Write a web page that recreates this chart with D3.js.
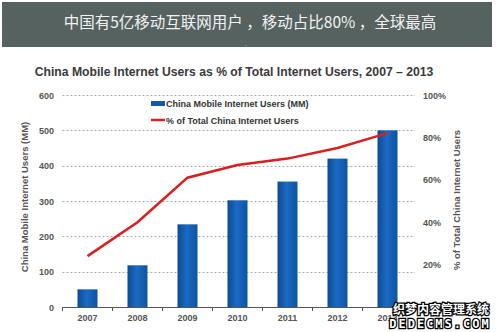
<!DOCTYPE html>
<html><head><meta charset="utf-8">
<script src="https://cdn.jsdelivr.net/npm/d3@7"></script>
<style>body{margin:0;background:#fff;}svg{display:block;}</style>
</head><body>
<svg id="c" width="500" height="332"></svg>
<script>
const years = ["2007","2008","2009","2010","2011","2012","2013"];
const users = [50, 118, 234, 302, 355, 420, 500];
const share = [24, 40, 61, 67, 70, 75, 82];
const leftTicks = [0,100,200,300,400,500,600];
const rightTicks = [20,40,60,80,100];

const svg = d3.select("#c");
const font = "Liberation Sans, Arial, sans-serif";

// banner
svg.append("rect").attr("x",2).attr("y",2).attr("width",490).attr("height",45).attr("fill","#56625f");
svg.append("text").attr("x",250).attr("y",28).attr("text-anchor","middle")
  .attr("font-family","Noto Sans CJK SC").attr("font-size",15.5).attr("fill","#f2f2f2")
  .text("中国有5亿移动互联网用户 ，移动占比80% ，全球最高");
svg.append("text").attr("x",246).attr("y",46).attr("text-anchor","middle").attr("font-size",6).attr("fill","#ddd").text(".");

// chart title
svg.append("text").attr("x",234).attr("y",76).attr("text-anchor","middle")
  .attr("font-family",font).attr("font-weight","bold").attr("font-size",12.2).attr("fill","#3a3a3a")
  .text("China Mobile Internet Users as % of Total Internet Users, 2007 – 2013");

const x0 = 62.5, x1 = 412.5, yTop = 95, yBot = 307;
const x = d3.scaleBand().domain(years).range([x0,x1]);
const yL = d3.scaleLinear().domain([0,600]).range([yBot,yTop]);
const yR = d3.scaleLinear().domain([0,100]).range([yBot,yTop]);

// gradient
const defs = svg.append("defs");
const g = defs.append("linearGradient").attr("id","bg").attr("x1","0").attr("x2","1").attr("y1","0").attr("y2","0");
g.append("stop").attr("offset","0%").attr("stop-color","#0d4a92");
g.append("stop").attr("offset","45%").attr("stop-color","#1a6ac4");
g.append("stop").attr("offset","100%").attr("stop-color","#0f559f");

// gridlines
svg.append("g").selectAll("line").data(leftTicks.filter(d=>d>0)).join("line")
  .attr("x1",x0).attr("x2",415).attr("y1",d=>Math.round(yL(d))+0.5).attr("y2",d=>Math.round(yL(d))+0.5)
  .attr("stroke","#aaa").attr("stroke-width",1).attr("stroke-dasharray","2,2");

// left axis labels
svg.append("g").selectAll("text").data(leftTicks).join("text")
  .attr("x",54).attr("y",d=>yL(d)+3.5).attr("text-anchor","end")
  .attr("font-family",font).attr("font-weight","bold").attr("font-size",9).attr("fill","#555")
  .text(d=>d);
// right axis labels
svg.append("g").selectAll("text").data(rightTicks).join("text")
  .attr("x",423).attr("y",d=>yR(d)+3.5).attr("text-anchor","start")
  .attr("font-family",font).attr("font-weight","bold").attr("font-size",9).attr("fill","#555")
  .text(d=>d+"%");

// bars
svg.append("g").selectAll("rect").data(years).join("rect")
  .attr("x",d=>x(d)+x.bandwidth()/2-10).attr("width",20)
  .attr("y",(d,i)=>yL(users[i])).attr("height",(d,i)=>yBot-yL(users[i]))
  .attr("fill","url(#bg)");

// x axis
const xa = svg.append("g");
xa.append("line").attr("x1",x0).attr("x2",x1).attr("y1",yBot+0.5).attr("y2",yBot+0.5).attr("stroke","#555");
xa.selectAll("line.t").data(d3.range(years.length+1)).join("line").attr("class","t")
  .attr("x1",i=>x0+i*x.step()).attr("x2",i=>x0+i*x.step()).attr("y1",yBot).attr("y2",yBot+4).attr("stroke","#555");
xa.selectAll("text").data(years).join("text")
  .attr("x",d=>x(d)+x.bandwidth()/2).attr("y",321).attr("text-anchor","middle")
  .attr("font-family",font).attr("font-weight","bold").attr("font-size",9).attr("fill","#555").text(d=>d);

// line
const line = d3.line().x((d,i)=>x(years[i])+x.bandwidth()/2).y(d=>yR(d));
svg.append("path").datum(share).attr("d",line).attr("fill","none")
  .attr("stroke","#d8201e").attr("stroke-width",2.5);

// legend
svg.append("rect").attr("x",151).attr("y",101).attr("width",14).attr("height",5).attr("fill","#1558a8");
svg.append("text").attr("x",166).attr("y",107).attr("font-family",font).attr("font-weight","bold").attr("font-size",9).attr("fill","#333")
  .text("China Mobile Internet Users (MM)");
svg.append("line").attr("x1",151).attr("x2",165).attr("y1",120).attr("y2",120).attr("stroke","#d8201e").attr("stroke-width",2.5);
svg.append("text").attr("x",166).attr("y",123.5).attr("font-family",font).attr("font-weight","bold").attr("font-size",9).attr("fill","#333")
  .text("% of Total China Internet Users");

// axis titles
svg.append("text").attr("transform","translate(28,197) rotate(-90)").attr("text-anchor","middle")
  .attr("font-family",font).attr("font-weight","bold").attr("font-size",9.5).attr("fill","#555")
  .text("China Mobile Internet Users (MM)");
svg.append("text").attr("transform","translate(460,200) rotate(-90)").attr("text-anchor","middle")
  .attr("font-family",font).attr("font-weight","bold").attr("font-size",9.5).attr("fill","#555")
  .text("% of Total China Internet Users");

// watermark
svg.append("text").attr("x",441).attr("y",314).attr("text-anchor","middle")
  .attr("font-family","Noto Sans CJK SC").attr("font-weight","bold").attr("font-size",12).attr("fill","#fff")
  .attr("stroke","#000").attr("stroke-width",2.5).attr("paint-order","stroke").text("织梦内容管理系统");
svg.append("text").attr("x",440).attr("y",328).attr("text-anchor","middle")
  .attr("font-family","DejaVu Sans Mono").attr("font-weight","bold").attr("font-size",12).attr("fill","#fff").attr("letter-spacing",2)
  .attr("stroke","#000").attr("stroke-width",2.5).attr("paint-order","stroke").text("DEDECMS.COM");
</script>
</body></html>
